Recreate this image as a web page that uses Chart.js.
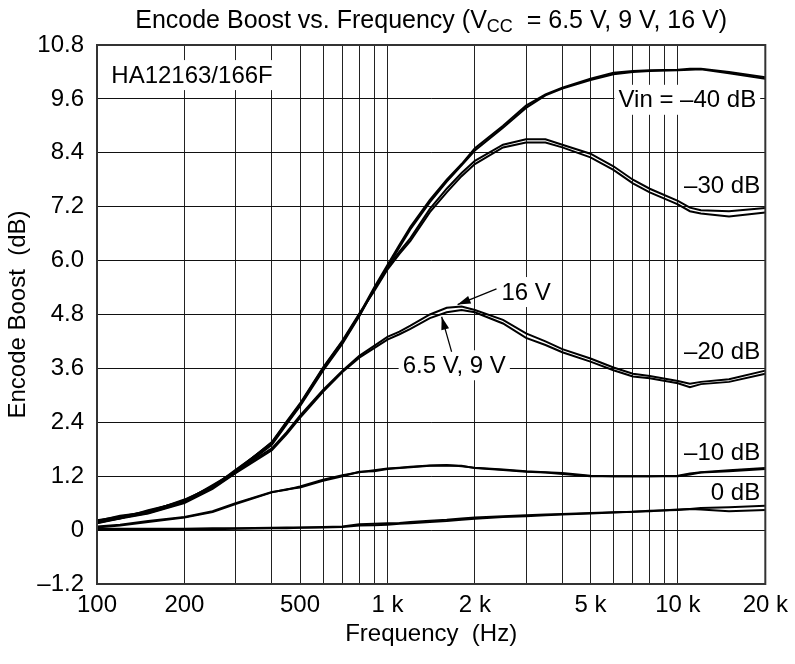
<!DOCTYPE html>
<html>
<head>
<meta charset="utf-8">
<script src="https://cdn.jsdelivr.net/npm/chart.js@4.4.1/dist/chart.umd.min.js"></script>
<style>
  body { margin: 0; background: #fff; }
  #wrap { width: 795px; height: 664px; position: relative; }
</style>
</head>
<body>
<div id="wrap"><canvas id="boostChart"></canvas></div>
<script>
const FONT = '"Liberation Sans", Arial, sans-serif';

// frequency points (Hz) shared by all curves
const freqHz = [100,120,150,200,250,300,400,450,500,600,700,800,900,1000,1100,1200,1400,1600,1800,2000,2500,3000,3500,4000,5000,6000,7000,8000,10000,11000,12000,15000,20000];

// encode boost (dB), one array per input level / supply voltage
const in40_16V = [0.22,0.30,0.42,0.66,0.98,1.32,1.95,2.40,2.80,3.60,4.20,4.80,5.40,5.90,6.35,6.75,7.35,7.80,8.15,8.50,9.00,9.45,9.70,9.85,10.05,10.18,10.22,10.24,10.25,10.27,10.27,10.20,10.08];
const in40_9V  = [0.16,0.27,0.38,0.62,0.94,1.28,1.90,2.36,2.76,3.55,4.15,4.76,5.36,5.86,6.30,6.70,7.30,7.76,8.12,8.45,8.96,9.40,9.68,9.83,10.02,10.15,10.20,10.22,10.24,10.25,10.26,10.17,10.05];
const in30_16V = [0.20,0.32,0.40,0.68,0.96,1.34,1.92,2.38,2.78,3.58,4.18,4.78,5.36,5.85,6.20,6.50,7.15,7.60,7.95,8.22,8.58,8.70,8.70,8.58,8.38,8.10,7.80,7.60,7.33,7.18,7.12,7.10,7.17];
const in30_9V  = [0.18,0.26,0.44,0.64,1.00,1.30,1.96,2.42,2.82,3.62,4.22,4.82,5.32,5.80,6.15,6.44,7.08,7.52,7.88,8.15,8.52,8.63,8.63,8.52,8.30,8.02,7.72,7.52,7.25,7.10,7.05,6.98,7.07];
const in20_16V = [0.20,0.28,0.40,0.64,0.95,1.30,1.82,2.18,2.55,3.12,3.55,3.88,4.10,4.30,4.42,4.55,4.80,4.95,4.98,4.90,4.68,4.38,4.20,4.03,3.82,3.62,3.48,3.43,3.32,3.26,3.30,3.36,3.55];
const in20_9V  = [0.15,0.26,0.37,0.60,0.92,1.27,1.78,2.14,2.50,3.08,3.52,3.84,4.05,4.24,4.36,4.48,4.72,4.85,4.90,4.85,4.60,4.28,4.12,3.96,3.75,3.56,3.42,3.38,3.27,3.18,3.25,3.30,3.48];
const in10_16V = [0.08,0.12,0.20,0.29,0.42,0.60,0.85,0.90,0.97,1.12,1.22,1.29,1.33,1.37,1.39,1.41,1.44,1.45,1.42,1.39,1.35,1.31,1.29,1.27,1.21,1.20,1.20,1.20,1.21,1.26,1.29,1.33,1.38];
const in10_9V  = [0.06,0.10,0.18,0.28,0.40,0.58,0.84,0.91,0.95,1.10,1.20,1.30,1.31,1.36,1.38,1.40,1.43,1.44,1.43,1.38,1.34,1.30,1.28,1.25,1.20,1.20,1.20,1.20,1.20,1.24,1.28,1.31,1.36];
const in0_16V  = [0.03,0.03,0.03,0.03,0.04,0.04,0.05,0.06,0.06,0.07,0.08,0.13,0.14,0.15,0.16,0.18,0.21,0.23,0.26,0.28,0.31,0.33,0.35,0.36,0.38,0.40,0.41,0.43,0.45,0.47,0.49,0.51,0.54];
const in0_9V   = [0.00,0.01,0.01,0.02,0.02,0.03,0.04,0.04,0.05,0.06,0.07,0.10,0.11,0.12,0.14,0.15,0.18,0.20,0.23,0.25,0.29,0.31,0.33,0.35,0.37,0.39,0.41,0.42,0.46,0.47,0.46,0.42,0.45];

// axes
const xGrid = [100,200,300,400,500,600,700,800,900,1000,2000,3000,4000,5000,6000,7000,8000,9000,10000,20000];
const xLabels = {100:'100',200:'200',500:'500',1000:'1 k',2000:'2 k',5000:'5 k',10000:'10 k',20000:'20 k'};
const yTicks = [-1.2,0,1.2,2.4,3.6,4.8,6.0,7.2,8.4,9.6,10.8];

// text labels on the plot, anchored in data units [Hz, dB]
const notes = [
  {text:'HA12163/166F', at:[112,10.13], align:'left', box:true},
  {text:'Vin = \u201340 dB', at:[18600,9.58], align:'right', box:true},
  {text:'\u201330 dB', at:[19200,7.68], align:'right'},
  {text:'\u201320 dB', at:[19200,3.97], align:'right'},
  {text:'\u201310 dB', at:[19200,1.74], align:'right'},
  {text:'0 dB', at:[19200,0.85], align:'right'},
  {text:'16 V', at:[2470,5.30], align:'left', box:true},
  {text:'6.5 V, 9 V', at:[1128,3.67], align:'left', box:true}
];
const arrows = [
  {from:[2374,5.37], to:[1744,5.02]},
  {from:[1663,3.97], to:[1537,4.75]}
];

const series = [in40_16V,in40_9V,in30_16V,in30_9V,in20_16V,in20_9V,in10_16V,in10_9V,in0_16V,in0_9V];
const datasets = series.map(vals => ({
  data: freqHz.map((f,i) => ({x:f, y:vals[i]})),
  borderColor:'#000',
  borderWidth:2,
  pointRadius:0,
  tension:0,
  fill:false
}));

const dash = v => v < 0 ? '\u2013' + Math.abs(v).toFixed(1) : (v === 0 ? '0' : v.toFixed(1));

const notesPlugin = {
  id:'notesPlugin',
  beforeDatasetsDraw(chart) {
    const {ctx, scales:{x, y}} = chart;
    ctx.save();
    ctx.font = '24px ' + FONT;
    ctx.textBaseline = 'middle';
    notes.forEach(n => {
      const px = x.getPixelForValue(n.at[0]);
      const py = y.getPixelForValue(n.at[1]);
      const w = ctx.measureText(n.text).width;
      const left = n.align === 'left' ? px : px - w;
      if (n.box) {
        ctx.fillStyle = '#fff';
        ctx.fillRect(left - 4, py - 15, w + 8, 30);
      }
      ctx.fillStyle = '#000';
      ctx.textAlign = 'left';
      ctx.fillText(n.text, left, py + 1);
    });
    ctx.restore();
  },
  afterDatasetsDraw(chart) {
    const {ctx, chartArea:a, scales:{x, y}} = chart;
    ctx.save();
    ctx.strokeStyle = '#000';
    ctx.fillStyle = '#000';
    ctx.lineWidth = 1.2;
    arrows.forEach(ar => {
      const x0 = x.getPixelForValue(ar.from[0]), y0 = y.getPixelForValue(ar.from[1]);
      const x1 = x.getPixelForValue(ar.to[0]), y1 = y.getPixelForValue(ar.to[1]);
      const ang = Math.atan2(y1 - y0, x1 - x0);
      ctx.beginPath(); ctx.moveTo(x0, y0); ctx.lineTo(x1, y1); ctx.stroke();
      ctx.beginPath();
      ctx.moveTo(x1, y1);
      ctx.lineTo(x1 - 13*Math.cos(ang) + 4*Math.sin(ang), y1 - 13*Math.sin(ang) - 4*Math.cos(ang));
      ctx.lineTo(x1 - 13*Math.cos(ang) - 4*Math.sin(ang), y1 - 13*Math.sin(ang) + 4*Math.cos(ang));
      ctx.closePath(); ctx.fill();
    });
    // plot frame
    ctx.strokeStyle = '#333';
    ctx.lineWidth = 2;
    ctx.strokeRect(a.left, a.top, a.right - a.left, a.bottom - a.top);
    ctx.restore();
  },
  afterDraw(chart) {
    const {ctx, chartArea:a} = chart;
    ctx.save();
    ctx.fillStyle = '#000';
    ctx.textBaseline = 'alphabetic';
    ctx.textAlign = 'left';
    const p1 = 'Encode Boost vs. Frequency (V', sub = 'CC', p2 = '  = 6.5 V, 9 V, 16 V)';
    ctx.font = '25px ' + FONT;
    const w1 = ctx.measureText(p1).width, w3 = ctx.measureText(p2).width;
    ctx.font = '18px ' + FONT;
    const w2 = ctx.measureText(sub).width;
    let tx = (a.left + a.right)/2 - (w1 + w2 + w3)/2;
    const base = 28;
    ctx.font = '25px ' + FONT;
    ctx.fillText(p1, tx, base); tx += w1;
    ctx.font = '18px ' + FONT;
    ctx.fillText(sub, tx, base + 4); tx += w2;
    ctx.font = '25px ' + FONT;
    ctx.fillText(p2, tx, base);
    ctx.restore();
  }
};

new Chart(document.getElementById('boostChart'), {
  type:'line',
  data:{ datasets },
  options:{
    responsive:true,
    maintainAspectRatio:false,
    animation:false,
    layout:{ padding:{ top:45, right:29, left:0, bottom:0 } },
    plugins:{ legend:{display:false}, tooltip:{enabled:false}, title:{display:false} },
    scales:{
      x:{
        type:'logarithmic',
        min:100, max:20000,
        afterBuildTicks: s => { s.ticks = xGrid.map(v => ({value:v})); },
        afterFit: s => { s.height = 80; },
        grid:{ color:'#222', lineWidth:1, drawTicks:false },
        border:{ display:false },
        ticks:{
          autoSkip:false, maxRotation:0, padding:7,
          color:'#000', font:{size:24, family:FONT},
          callback: v => xLabels[v] || ''
        },
        title:{ display:true, text:'Frequency  (Hz)', color:'#000', font:{size:24, family:FONT}, padding:{top:4, bottom:15} }
      },
      y:{
        type:'linear',
        min:-1.2, max:10.8,
        afterBuildTicks: s => { s.ticks = yTicks.map(v => ({value:v})); },
        afterFit: s => { s.width = 97; },
        grid:{ color:'#111', lineWidth:1, drawTicks:false },
        border:{ display:false },
        ticks:{
          padding:13, color:'#000', font:{size:24, family:FONT},
          callback: v => dash(Math.round(v*10)/10)
        },
        title:{ display:true, text:'Encode Boost  (dB)', color:'#000', font:{size:24, family:FONT}, padding:{top:4, bottom:0} }
      }
    }
  },
  plugins:[notesPlugin]
});
</script>
</body>
</html>
